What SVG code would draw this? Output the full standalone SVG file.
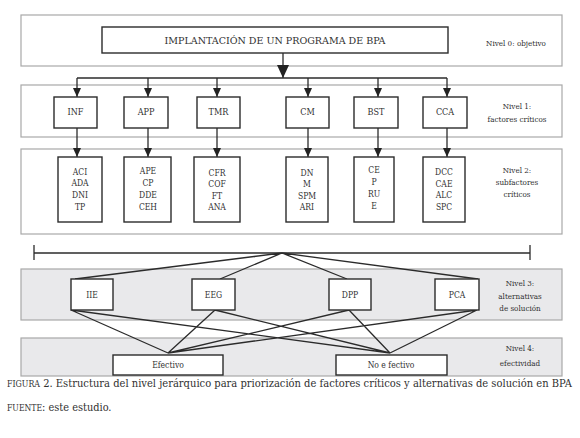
<svg xmlns="http://www.w3.org/2000/svg" width="580" height="438" viewBox="0 0 580 438">
<style>
text{font-family:"DejaVu Serif Condensed","DejaVu Serif",serif;fill:#303030;text-anchor:middle}
.band{fill:#fff;stroke:#a8a8a8;stroke-width:1.2}
.gband{fill:#e9e9eb;stroke:#a8a8a8;stroke-width:1.2}
.box{fill:#fff;stroke:#2b2b2b;stroke-width:1.4}
.n{font-size:9px}
.s{font-size:8.5px}
.lab{font-size:8px}
.cap{font-size:10.9px;text-anchor:start}
.ln{stroke:#2b2b2b;stroke-width:1.3;fill:none}
</style>
<defs>
<marker id="ah" markerUnits="userSpaceOnUse" markerWidth="10" markerHeight="10" refX="9" refY="5" orient="auto">
<path d="M0,1 L9,5 L0,9 Z" fill="#222"/>
</marker>
<marker id="ahb" markerUnits="userSpaceOnUse" markerWidth="14" markerHeight="14" refX="13" refY="7" orient="auto">
<path d="M0,1 L13,7 L0,13 Z" fill="#222"/>
</marker>
</defs>
<rect width="580" height="438" fill="#fff"/>
<g id="bands">
<rect class="band" x="21" y="15" width="541" height="51"/>
<rect class="band" x="21" y="85" width="541" height="52"/>
<rect class="band" x="21" y="149" width="541" height="85"/>
<rect class="gband" x="21" y="269" width="541" height="51"/>
<rect class="gband" x="21" y="338" width="541" height="38"/>
<text class="lab" x="516" y="46">Nivel 0: objetivo</text>
<text class="lab" x="517" y="109">Nivel 1:</text>
<text class="lab" x="517" y="122">factores críticos</text>
<text class="lab" x="517" y="173">Nivel 2:</text>
<text class="lab" x="517" y="185">subfactores</text>
<text class="lab" x="517" y="197">críticos</text>
<text class="lab" x="520" y="286">Nivel 3:</text>
<text class="lab" x="520" y="299">alternativas</text>
<text class="lab" x="520" y="311">de solución</text>
<text class="lab" x="520" y="351">Nivel 4:</text>
<text class="lab" x="520" y="366">efectividad</text>
</g>
<g id="connectors">
<line class="ln" x1="283" y1="53" x2="283" y2="78" stroke-width="2" marker-end="url(#ahb)"/>
<line class="ln" x1="77" y1="78" x2="447" y2="78"/>
<line class="ln" x1="77" y1="78" x2="77" y2="97" marker-end="url(#ah)"/>
<line class="ln" x1="148" y1="78" x2="148" y2="97" marker-end="url(#ah)"/>
<line class="ln" x1="217" y1="78" x2="217" y2="97" marker-end="url(#ah)"/>
<line class="ln" x1="308" y1="78" x2="308" y2="97" marker-end="url(#ah)"/>
<line class="ln" x1="378" y1="78" x2="378" y2="97" marker-end="url(#ah)"/>
<line class="ln" x1="447" y1="78" x2="447" y2="97" marker-end="url(#ah)"/>
<line class="ln" x1="77" y1="128" x2="77" y2="157" marker-end="url(#ah)"/>
<line class="ln" x1="148" y1="128" x2="148" y2="157" marker-end="url(#ah)"/>
<line class="ln" x1="217" y1="128" x2="217" y2="157" marker-end="url(#ah)"/>
<line class="ln" x1="308" y1="128" x2="308" y2="157" marker-end="url(#ah)"/>
<line class="ln" x1="378" y1="128" x2="378" y2="157" marker-end="url(#ah)"/>
<line class="ln" x1="447" y1="128" x2="447" y2="157" marker-end="url(#ah)"/>
<line class="ln" x1="34" y1="253" x2="530" y2="253" stroke-width="1.5"/>
<line class="ln" x1="34" y1="245" x2="34" y2="260" stroke-width="2"/>
<line class="ln" x1="530" y1="245" x2="530" y2="260" stroke-width="2"/>
<path class="ln" d="M75,279 L282,253 L220,279 M282,253 L347,279 M282,253 L478,279"/>
<path class="ln" d="M71,310 L168,353 M71,310 L390,353 M215,310 L168,353 M215,310 L390,353 M349,310 L168,353 M349,310 L390,353 M477,310 L168,353 M477,310 L390,353"/>
</g>
<g id="goal"><rect class="box" x="102" y="27" width="346" height="26"/><text x="275" y="44" font-size="10" textLength="221" lengthAdjust="spacingAndGlyphs">IMPLANTACIÓN DE UN PROGRAMA DE BPA</text></g>
<g id="INF"><rect class="box" x="54" y="97" width="43" height="31"/><text class="n" x="75.5" y="115">INF</text></g>
<g id="APP"><rect class="box" x="124" y="97" width="44" height="31"/><text class="n" x="146" y="115">APP</text></g>
<g id="TMR"><rect class="box" x="197" y="97" width="43" height="31"/><text class="n" x="218.5" y="115">TMR</text></g>
<g id="CM"><rect class="box" x="286" y="97" width="43" height="31"/><text class="n" x="307.5" y="115">CM</text></g>
<g id="BST"><rect class="box" x="354" y="97" width="44" height="31"/><text class="n" x="376" y="115">BST</text></g>
<g id="CCA"><rect class="box" x="423" y="97" width="44" height="31"/><text class="n" x="445" y="115">CCA</text></g>
<g id="sub-INF"><rect class="box" x="58" y="157" width="44" height="65"/><text class="s" x="80" y="175">ACI</text><text class="s" x="80" y="186">ADA</text><text class="s" x="80" y="198">DNI</text><text class="s" x="80" y="210">TP</text></g>
<g id="sub-APP"><rect class="box" x="124" y="157" width="47" height="65"/><text class="s" x="148" y="174">APE</text><text class="s" x="148" y="186">CP</text><text class="s" x="148" y="198">DDE</text><text class="s" x="148" y="210">CEH</text></g>
<g id="sub-TMR"><rect class="box" x="194" y="157" width="46" height="65"/><text class="s" x="217" y="176">CFR</text><text class="s" x="217" y="187">COF</text><text class="s" x="217" y="199">FT</text><text class="s" x="217" y="210">ANA</text></g>
<g id="sub-CM"><rect class="box" x="286" y="157" width="42" height="65"/><text class="s" x="307" y="176">DN</text><text class="s" x="307" y="187">M</text><text class="s" x="307" y="199">SPM</text><text class="s" x="307" y="210">ARI</text></g>
<g id="sub-BST"><rect class="box" x="354" y="157" width="40" height="65"/><text class="s" x="374" y="173">CE</text><text class="s" x="374" y="185">P</text><text class="s" x="374" y="197">RU</text><text class="s" x="374" y="209">E</text></g>
<g id="sub-CCA"><rect class="box" x="423" y="157" width="42" height="65"/><text class="s" x="444" y="175">DCC</text><text class="s" x="444" y="187">CAE</text><text class="s" x="444" y="198">ALC</text><text class="s" x="444" y="210">SPC</text></g>
<g id="IIE"><rect class="box" x="71" y="279" width="42" height="31"/><text class="s" x="92" y="298">IIE</text></g>
<g id="EEG"><rect class="box" x="192" y="279" width="43" height="31"/><text class="s" x="213.5" y="298">EEG</text></g>
<g id="DPP"><rect class="box" x="329" y="279" width="42" height="31"/><text class="s" x="350" y="298">DPP</text></g>
<g id="PCA"><rect class="box" x="435" y="279" width="44" height="31"/><text class="s" x="457" y="298">PCA</text></g>
<g id="Efectivo"><rect class="box" x="113" y="355" width="110" height="20"/><text class="s" x="168" y="368">Efectivo</text></g>
<g id="NoEfectivo"><rect class="box" x="336" y="355" width="111" height="20"/><text class="s" x="391" y="368">No e fectivo</text></g>
<g id="caption">
<text class="cap" x="7" y="387" textLength="565" lengthAdjust="spacingAndGlyphs"><tspan font-size="8.6px">FIGURA</tspan> 2. Estructura del nivel jerárquico para priorización de factores críticos y alternativas de solución en BPA</text>
<text class="cap" x="7" y="411"><tspan font-size="8.6px">FUENTE</tspan>: este estudio.</text>
</g>
</svg>
